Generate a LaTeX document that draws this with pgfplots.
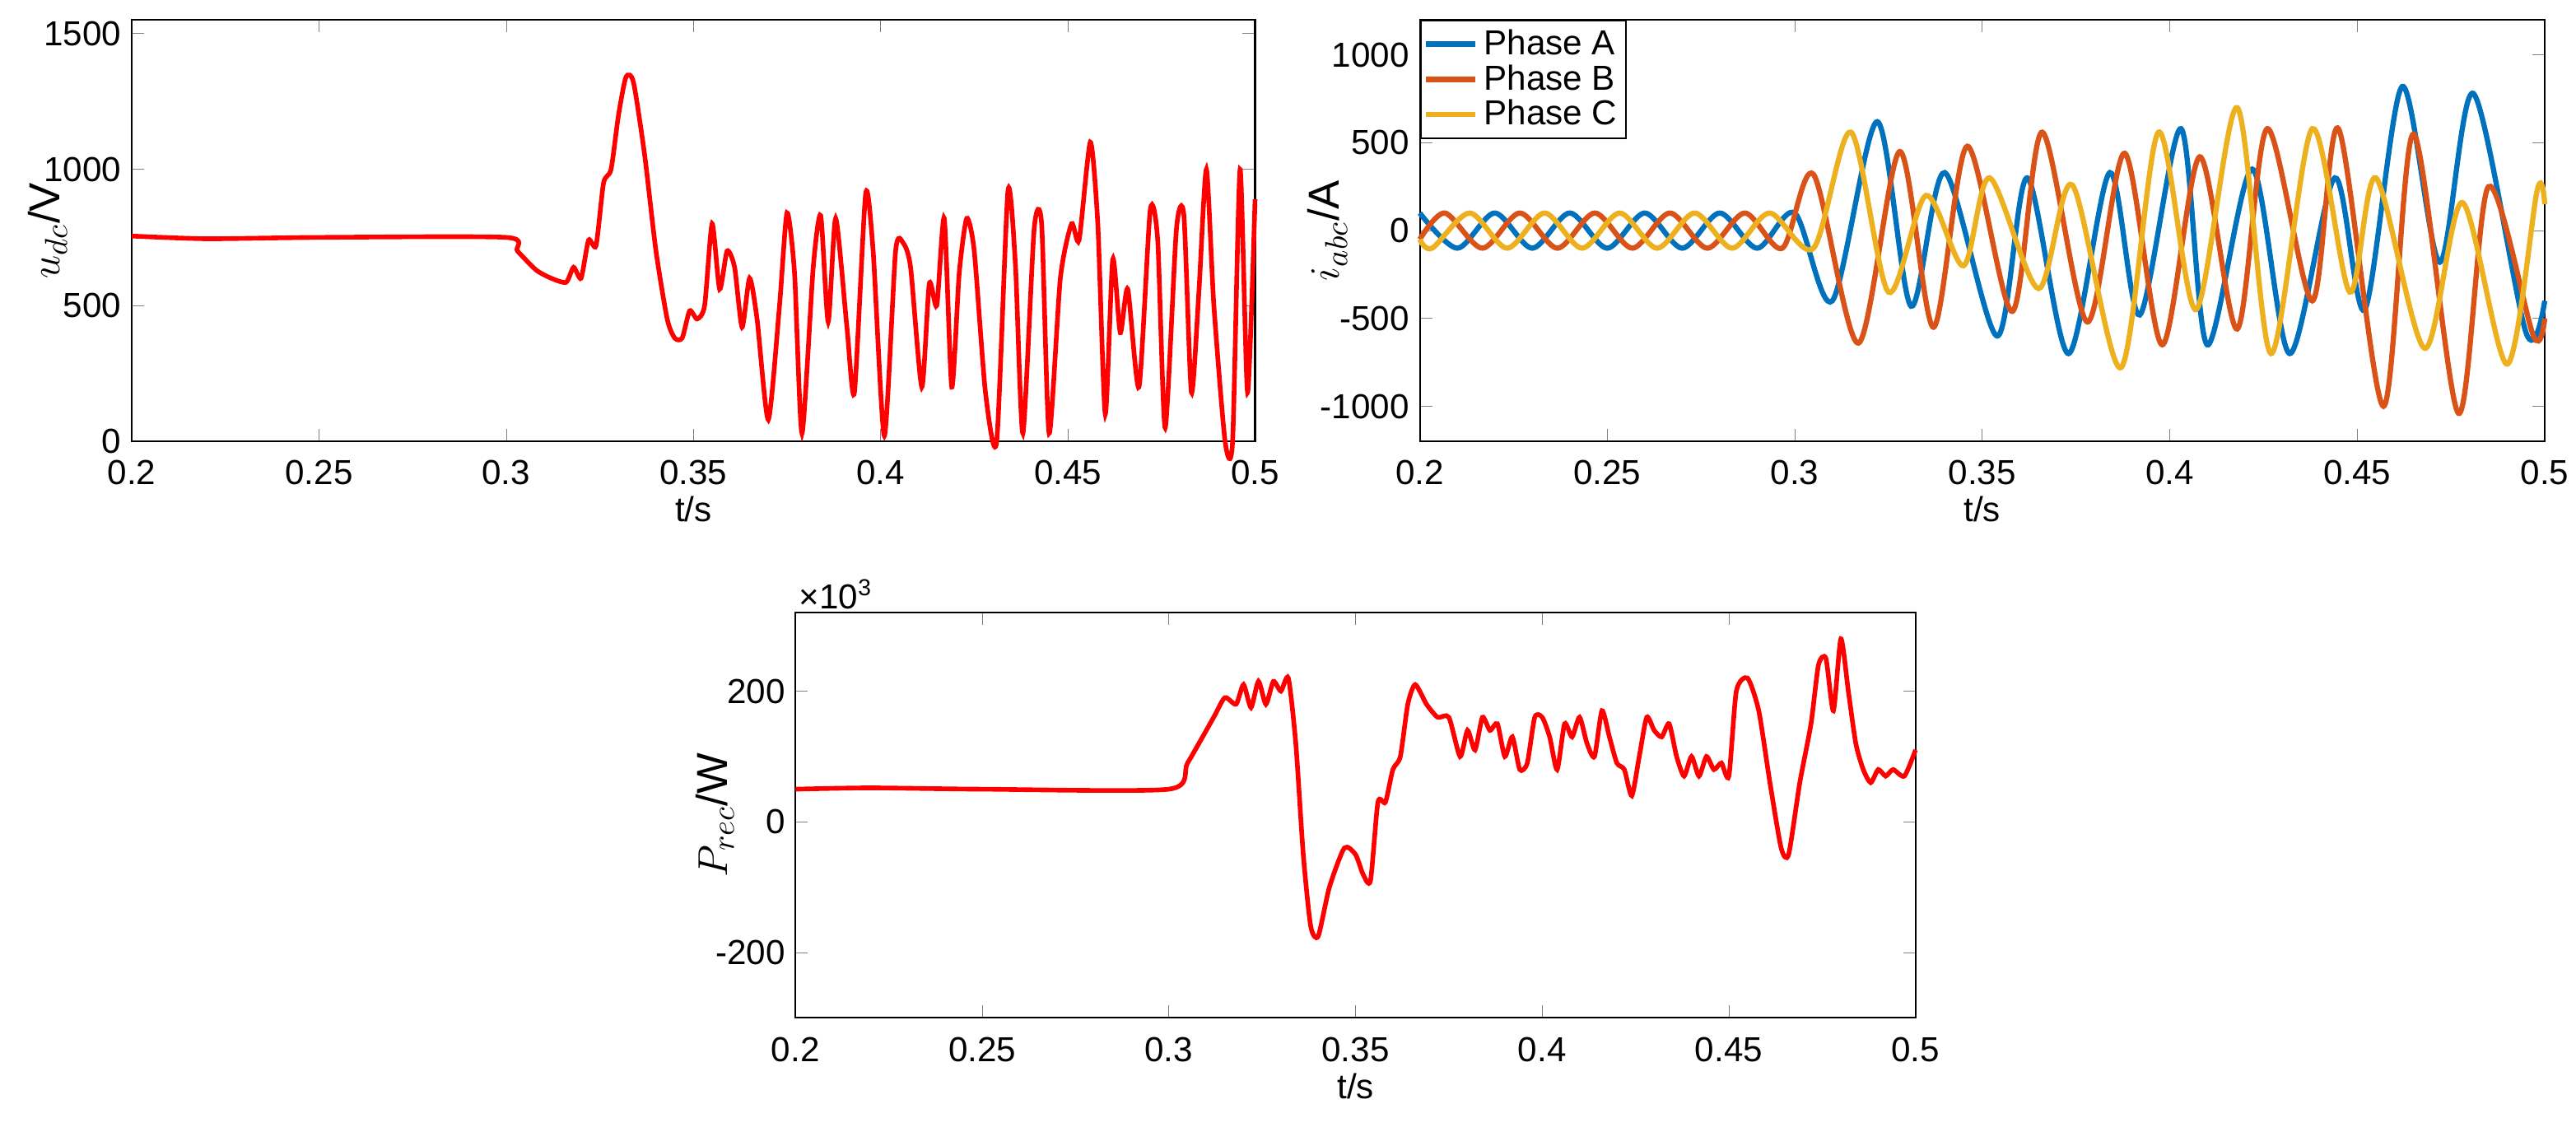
\documentclass[border=0pt]{standalone}
\usepackage{pgfplots}
\pgfplotsset{compat=1.18}
\usepackage{fontspec}
\setmainfont{Liberation Sans}
\definecolor{cA}{RGB}{0,114,189}
\definecolor{cB}{RGB}{217,83,25}
\definecolor{cC}{RGB}{237,177,32}
\pgfplotsset{every axis/.append style={scale only axis, xmin=0.2, xmax=0.5,
 xtick={0.2,0.25,...,0.5}, xticklabels={0.2,0.25,0.3,0.35,0.4,0.45,0.5},
 tick align=inside, font=\fontsize{12}{14}\selectfont, /pgf/number format/assume math mode=true,
 xlabel={t/s}, xlabel style={yshift=3pt}, line width=0.6pt,
 xticklabel style={yshift=-3pt}, clip=false,
 yticklabel style={/pgf/number format/fixed, /pgf/number format/1000 sep={}}}}
\begin{document}
\begin{tikzpicture}
\useasboundingbox (0,0) rectangle (31.28,-13.74);
\begin{axis}[at={(1.6cm,-5.36cm)}, anchor=south west, width=13.64cm, height=5.12cm,
 ymin=0, ymax=1550, ytick={0,500,1000,1500},
 ylabel={$u_{dc}$/V}, ylabel style={font=\fontsize{15}{16}\selectfont, at={(axis description cs:-0.075,0.5)}, anchor=center}]
\addplot[red, line width=1.6pt, smooth, tension=0.4] coordinates {(0.2,755)(0.22,745)(0.25,750)(0.3,750)(0.303,700)(0.308,630)(0.312,600)(0.316,585)(0.318,640)(0.320,600)(0.322,740)(0.324,720)(0.326,950)(0.328,1000)(0.330,1200)(0.332,1340)(0.334,1320)(0.337,1050)(0.340,700)(0.343,450)(0.345,380)(0.347,380)(0.349,480)(0.351,450)(0.353,500)(0.355,800)(0.357,560)(0.359,700)(0.361,640)(0.363,420)(0.365,600)(0.367,450)(0.370,80)(0.373,500)(0.375,840)(0.377,620)(0.379,30)(0.382,640)(0.384,830)(0.386,440)(0.388,820)(0.391,420)(0.393,180)(0.396,910)(0.398,700)(0.401,20)(0.404,700)(0.406,730)(0.408,640)(0.411,200)(0.413,580)(0.415,500)(0.417,820)(0.419,200)(0.421,620)(0.423,820)(0.425,700)(0.428,180)(0.431,0)(0.434,920)(0.436,650)(0.438,30)(0.441,780)(0.443,800)(0.445,30)(0.448,600)(0.451,800)(0.453,740)(0.456,1100)(0.458,800)(0.460,100)(0.462,670)(0.464,400)(0.466,560)(0.469,200)(0.472,850)(0.474,740)(0.476,50)(0.479,780)(0.481,830)(0.483,180)(0.485,550)(0.487,1000)(0.489,500)(0.492,0)(0.494,0)(0.496,1000)(0.498,180)(0.500,890)};
\end{axis}
\begin{axis}[at={(17.24cm,-5.36cm)}, anchor=south west, width=13.66cm, height=5.12cm,
 ymin=-1200, ymax=1200, ytick={-1000,-500,0,500,1000},
 ylabel={$i_{abc}$/A}, ylabel style={font=\fontsize{15}{16}\selectfont, at={(axis description cs:-0.082,0.5)}, anchor=center},
 legend style={at={(0,1)}, anchor=north west, font=\fontsize{12}{14}\selectfont, inner sep=1pt, row sep=-2pt},
 legend cell align=left]
\addplot[cA, line width=1.8pt, smooth] coordinates {(0.2,100)(0.21,-100)(0.22,100)(0.23,-100)(0.24,100)(0.25,-100)(0.26,100)(0.27,-100)(0.28,100)(0.29,-100)(0.30,100)(0.31,-400)(0.322,620)(0.331,-430)(0.34,330)(0.354,-600)(0.362,300)(0.373,-700)(0.384,330)(0.392,-480)(0.403,580)(0.41,-650)(0.422,350)(0.432,-700)(0.444,300)(0.452,-450)(0.462,820)(0.472,-180)(0.481,780)(0.495,-580)(0.5,-400)};
\addlegendentry{Phase A}
\addplot[cB, line width=1.8pt, smooth] coordinates {(0.2,-50)(0.2067,100)(0.2167,-100)(0.2267,100)(0.2367,-100)(0.2467,100)(0.2567,-100)(0.2667,100)(0.2767,-100)(0.2867,100)(0.2967,-100)(0.305,320)(0.317,-640)(0.328,450)(0.337,-550)(0.346,480)(0.358,-460)(0.366,560)(0.378,-520)(0.388,440)(0.398,-650)(0.408,420)(0.418,-560)(0.426,580)(0.438,-400)(0.445,580)(0.457,-1000)(0.465,550)(0.477,-1040)(0.485,250)(0.497,-600)(0.5,-500)};
\addlegendentry{Phase B}
\addplot[cC, line width=1.8pt, smooth] coordinates {(0.2,-50)(0.2033,-100)(0.2133,100)(0.2233,-100)(0.2333,100)(0.2433,-100)(0.2533,100)(0.2633,-100)(0.2733,100)(0.2833,-100)(0.2933,100)(0.305,-100)(0.315,560)(0.325,-350)(0.335,200)(0.345,-200)(0.352,300)(0.365,-330)(0.374,260)(0.387,-780)(0.397,560)(0.407,-450)(0.418,700)(0.427,-700)(0.438,580)(0.448,-350)(0.455,300)(0.468,-670)(0.478,160)(0.49,-760)(0.498,230)(0.5,150)};
\addlegendentry{Phase C}
\end{axis}
\begin{axis}[at={(9.66cm,-12.36cm)}, anchor=south west, width=13.6cm, height=4.92cm,
 ymin=-300, ymax=320, ytick={-200,0,200},
 ylabel={$P_{rec}$/W}, ylabel style={font=\fontsize{15}{16}\selectfont, at={(axis description cs:-0.072,0.5)}, anchor=center}]
\addplot[red, line width=1.6pt, smooth, tension=0.4] coordinates {(0.2,50)(0.22,52)(0.25,50)(0.3,50)(0.305,90)(0.312,160)(0.315,190)(0.318,180)(0.32,210)(0.322,175)(0.324,215)(0.326,180)(0.328,215)(0.33,200)(0.332,220)(0.334,120)(0.336,-50)(0.338,-160)(0.34,-175)(0.343,-100)(0.347,-40)(0.35,-50)(0.352,-80)(0.354,-90)(0.356,30)(0.358,30)(0.36,80)(0.362,100)(0.364,180)(0.366,210)(0.369,180)(0.372,160)(0.375,160)(0.378,100)(0.38,140)(0.382,110)(0.384,160)(0.386,140)(0.388,150)(0.39,100)(0.392,130)(0.394,80)(0.396,90)(0.398,160)(0.40,160)(0.402,130)(0.404,80)(0.406,150)(0.408,130)(0.410,160)(0.412,120)(0.414,100)(0.416,170)(0.418,130)(0.42,90)(0.422,80)(0.424,40)(0.426,100)(0.428,160)(0.43,140)(0.432,130)(0.434,150)(0.436,100)(0.438,70)(0.44,100)(0.442,70)(0.444,100)(0.446,80)(0.448,90)(0.45,70)(0.452,200)(0.455,220)(0.458,170)(0.461,60)(0.464,-40)(0.466,-50)(0.469,60)(0.472,150)(0.474,240)(0.476,250)(0.478,170)(0.48,280)(0.482,200)(0.484,120)(0.486,80)(0.488,60)(0.49,80)(0.492,70)(0.494,80)(0.497,70)(0.5,110)};
\node[anchor=south west, font=\fontsize{12}{14}\selectfont, inner sep=1pt] at (rel axis cs:0,1) {×10\textsuperscript{3}};
\end{axis}
\end{tikzpicture}
\end{document}
